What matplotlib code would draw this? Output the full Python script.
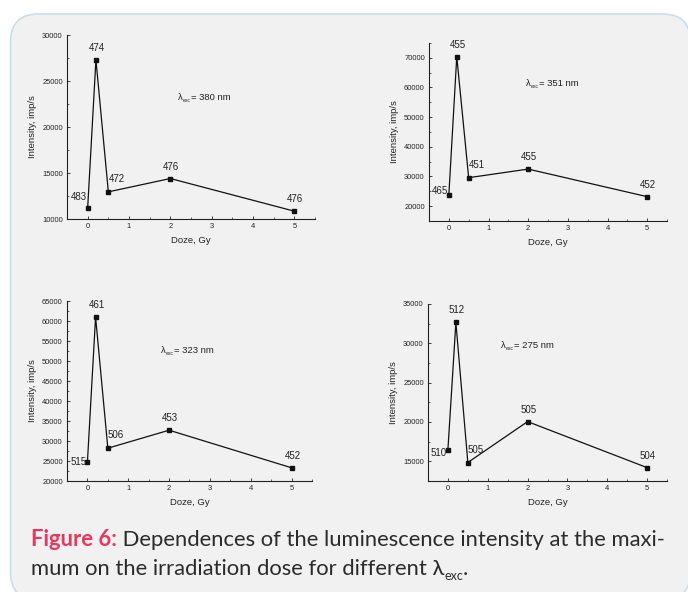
import matplotlib
matplotlib.use("Agg")
import matplotlib.pyplot as plt
from matplotlib.patches import FancyBboxPatch
from matplotlib.ticker import MultipleLocator, FormatStrFormatter

W, H = 688, 592

# Irradiation dose, Gy
dose = [0, 0.2, 0.5, 2, 5]

# Intensity at the band maximum (imp/s) and the maximum position (nm)
int_380 = [11200, 27300, 12950, 14400, 10850]
peak_380 = [483, 474, 472, 476, 476]
int_351 = [23700, 70400, 29600, 32500, 23200]
peak_351 = [465, 455, 451, 455, 452]
int_323 = [24700, 61000, 28200, 32700, 23300]
peak_323 = [515, 461, 506, 453, 452]
int_275 = [16500, 32650, 14850, 20050, 14200]
peak_275 = [510, 512, 505, 505, 504]

lambdas = ["380", "351", "323", "275"]

plt.rcParams['font.family'] = ['Liberation Sans', 'DejaVu Sans']

fig = plt.figure(figsize=(W / 100, H / 100), dpi=100)
fig.patch.set_facecolor('white')

# background card, axes in pixel units (y downwards)
bg = fig.add_axes([0, 0, 1, 1])
bg.set_xlim(0, W)
bg.set_ylim(H, 0)
bg.axis('off')
card = FancyBboxPatch((10.5, 14), 680, 586, boxstyle="round,pad=0,rounding_size=28",
                      fc='#f1f1f1', ec='#c8deed', lw=1.2)
bg.add_patch(card)
renderer = fig.canvas.get_renderer()


def rich_text(x, y, parts, family=None):
    """Place text runs one after another; y is the baseline in pixels."""
    for s, size, dy, color, weight in parts:
        kw = dict(fontsize=size, color=color, fontweight=weight,
                  ha='left', va='baseline')
        if family:
            kw['family'] = family
        t = bg.text(x, y + dy, s, **kw)
        x += t.get_window_extent(renderer).width


def px_rect(l, t, r, b):
    return [l / W, 1 - b / H, (r - l) / W, (b - t) / H]


def draw_panel(rect, values, peaks, lam, ylim, ymajor, first_dy, lam_xy):
    ax = fig.add_axes(rect)
    ax.patch.set_alpha(0)
    ax.plot(dose, values, color='#111111', lw=0.9, marker='s', ms=3.3,
            mfc='#111111', mec='#111111')
    ax.set_xlim(-0.5, 5.5)
    ax.set_ylim(*ylim)
    ax.xaxis.set_major_locator(MultipleLocator(1))
    ax.xaxis.set_minor_locator(MultipleLocator(0.5))
    ax.yaxis.set_major_locator(MultipleLocator(ymajor))
    ax.yaxis.set_minor_locator(MultipleLocator(ymajor / 2))
    ax.yaxis.set_major_formatter(FormatStrFormatter('%d'))
    for s in ('top', 'right'):
        ax.spines[s].set_visible(False)
    for s in ('left', 'bottom'):
        ax.spines[s].set_linewidth(0.8)
        ax.spines[s].set_color('#222222')
    ax.tick_params(which='major', direction='in', length=2.5, width=0.6,
                   labelsize=5.4, colors='#222222', pad=3)
    ax.tick_params(which='minor', direction='in', length=1.5, width=0.5,
                   colors='#222222')
    ax.set_xlabel("Doze, Gy", fontsize=6.8, labelpad=4, color='#222222')
    ax.set_ylabel("Intensity, imp/s", fontsize=6.8, labelpad=4, color='#222222')

    # maximum position next to every point
    for i, (x, y, p) in enumerate(zip(dose, values, peaks)):
        if i == 0:
            off, ha, va = (-1, first_dy), 'right', 'center'
        elif i == 2:
            off, ha, va = (0, 8), 'left', 'bottom'
        else:
            off, ha, va = (1, 7), 'center', 'bottom'
        ax.annotate(str(p), (x, y), xytext=off, textcoords='offset pixels',
                    ha=ha, va=va, fontsize=7, color='#222222')

    rich_text(lam_xy[0], lam_xy[1], [
        ("λ", 6.8, 0, '#222222', 'normal'),
        ("exc", 3.6, 2, '#222222', 'normal'),
        ("= " + lam + " nm", 6.8, 0, '#222222', 'normal'),
    ])
    return ax


draw_panel(px_rect(67, 35, 315, 219), int_380, peak_380, lambdas[0],
           (10000, 30000), 5000, 11, (178, 100))
draw_panel(px_rect(429, 43, 667, 221), int_351, peak_351, lambdas[1],
           (15000, 75000), 10000, 4, (526, 86))
draw_panel(px_rect(67, 301, 312, 481), int_323, peak_323, lambdas[2],
           (20000, 65000), 5000, 0, (161, 353))
draw_panel(px_rect(428, 304, 667, 481), int_275, peak_275, lambdas[3],
           (12500, 35000), 5000, -3, (501, 348))

# caption
cap_font = ['Lato', 'DejaVu Sans']
ink = '#2b2b2b'
rich_text(31, 546, [
    ("Figure 6:", 15.8, 0, '#e8385e', 'bold'),
    (" Dependences of the luminescence intensity at the maxi-", 15.8, 0, ink, 'normal'),
], family=cap_font)
rich_text(31, 575, [
    ("mum on the irradiation dose for different λ", 15.8, 0, ink, 'normal'),
    ("exc", 9, 5, ink, 'normal'),
    (".", 15.8, 0, ink, 'normal'),
], family=cap_font)

fig.savefig("out.png", dpi=100, facecolor='white')
